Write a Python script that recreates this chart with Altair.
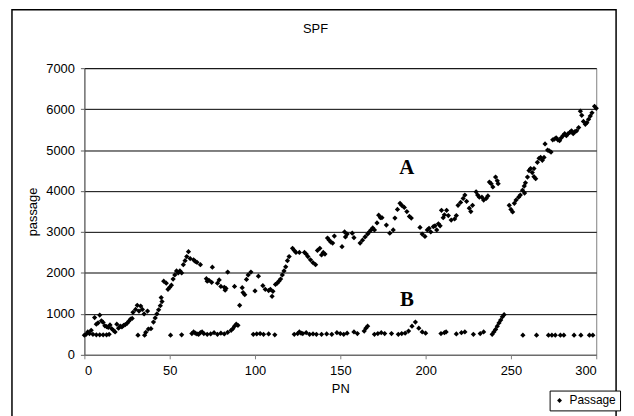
import altair as alt
import pandas as pd

# Upper trend (group "A")
a_pn = [6, 7, 8, 9, 10, 11, 12, 13, 14, 15, 16, 17, 18, 19, 20, 21, 22, 23, 24, 25, 26, 27, 28, 28.5, 30, 31, 32, 33, 34, 35, 37,
        36, 37.5, 39, 40.5, 41.5, 42.5, 43.5, 44.5, 45, 45.5, 46.5, 48, 49, 50, 51, 52, 53, 54, 55, 56, 57, 58, 59, 60, 61,
        62, 64, 65, 66, 68, 71.5, 72, 73, 74.6, 75, 78, 79, 80, 82, 82.5, 83, 84, 88, 91, 92.5, 93, 94, 95, 96, 97.6, 100, 102,
        104.6, 106, 108, 109, 110, 110.5, 112, 113, 114, 115, 116, 117, 118, 119, 120, 122, 123, 124, 126, 129, 130, 131, 132.5,
        134, 135.5, 136.6, 138, 139, 140, 141, 142.5, 143.5, 144.5, 145.5, 146.5, 151, 152.5, 153, 154, 157, 158, 161.6, 163,
        164.5, 166, 167, 168, 169, 170, 171.5, 172.5, 173.5, 174.4, 177, 179, 181, 182, 183.5, 185, 186, 187.5, 189, 190.5,
        191.6, 196.7, 198, 199.6, 201, 202, 203, 204.5, 205.5, 206.5, 207.5, 208.5, 209.3, 210.3, 211, 212.3, 213.3, 215, 217,
        218, 219, 220.5, 222, 223, 224, 225.6, 226.5, 227.5, 229.6, 230.5, 231.5, 233, 234, 235.5, 236.5, 237.4, 238.4, 239.4,
        241, 242, 242.5, 249, 250, 251, 252, 253, 254.5, 255.5, 256.8, 257.8, 258.5, 258, 259.7, 260.6, 261.5, 262.5, 263.5,
        264.5, 263.5, 265.5, 266.5, 267.4, 268.4, 269.4, 270, 271.5, 272.5, 273.5, 274.5, 275.5, 276.5, 277.5, 278.5, 279.5,
        280.5, 281.5, 282.5, 283.5, 284.5, 285.5, 286.5, 287.5, 288.5, 289.7, 290.7, 291.5, 292.5, 293.6, 294.5, 295.5, 296.5,
        297.5, 299, 300]
a_val = [910, 750, 780, 970, 830, 790, 710, 690, 670, 730, 640, 600, 560, 750, 650, 700, 680, 720, 740, 770, 820, 870, 890, 1040, 1110, 1210, 1070, 1190, 1110, 1000, 1070,
         550, 630, 640, 800, 900, 1000, 1100, 1200, 1400, 1300, 1800, 1750, 1600, 1650, 1700, 1850, 1950, 2050, 2000, 2050, 2000, 2200, 2300, 2400, 2520,
         2350, 2320, 2280, 2260, 2200, 1860, 1800, 1820, 1770, 2140, 1750, 1830, 1670, 1650, 1580, 1620, 2020, 1670, 1210, 1640, 1520, 1470, 1840, 1950, 2020, 1560, 1920,
         1690, 1600, 1570, 1600, 1430, 1550, 1720, 1750, 1800, 1850, 1950, 2050, 2150, 2300, 2400, 2600, 2550, 2500, 2500, 2500, 2460, 2400, 2320,
         2250, 2200, 2550, 2600, 2440, 2500, 2460, 2850, 2800, 2750, 2730, 2900, 2640, 3000, 2880, 2950, 2970, 2860, 2730, 2800,
         2880, 2950, 3000, 3050, 3100, 3050, 3220, 3410, 3350, 3350, 3170, 2970, 3050, 3340, 3550, 3700, 3650, 3600, 3500, 3380,
         3340, 3110, 2950, 2890, 3050, 3090, 3000, 3130, 3150, 3050, 3200, 3150, 3530, 3350, 3420, 3530, 3400, 3290, 3320,
         3400, 3650, 3720, 3820, 3900, 3750, 3580, 3500, 3650, 3980, 3900, 3850, 3850, 3780, 3820, 3880, 4220, 4180, 4100,
         4340, 4250, 4180, 3650, 3550, 3490, 3700, 3780, 3850, 3900, 4020, 4120, 4200, 3950, 4340, 4500, 4550, 4450, 4350,
         4300, 4550, 4700, 4800, 4820, 4750, 4820, 5150, 5000, 4980, 4950, 5250, 5270, 5300, 5250, 5230, 5300,
         5350, 5400, 5350, 5400, 5430, 5470, 5400, 5450, 5470, 5550, 5950, 5850, 5700, 5630, 5670, 5750, 5830,
         5910, 6070, 6020]

# Lower band (group "B")
b_pn = [0, 1, 2, 3, 4, 5, 7, 9, 11, 13, 14.5, 31.4, 35.3, 50.5, 57, 63, 64, 65, 66, 67, 68, 69, 70, 72, 74, 76, 78, 80, 82, 84,
        86, 87, 88, 89, 90, 99, 101, 103, 105, 108, 111.6, 123, 125, 126, 127, 128, 130, 132, 134, 136, 139, 142, 145, 148,
        150, 152, 154, 158, 160, 164, 165, 166, 170, 172, 174, 176, 180, 184, 186, 188, 190, 192, 194, 196, 198, 200, 209,
        211, 212, 218, 221, 223, 228, 232, 234, 239, 240, 241, 242, 243, 244, 245, 246, 257, 265, 272, 274, 276, 279, 281,
        287, 291, 296, 298]
b_val = [480, 500, 560, 520, 600, 500, 490, 490, 490, 490, 500, 480, 480, 480, 490, 520, 560, 530, 510, 500, 540, 560, 520, 500, 510, 540, 500, 530, 510, 550,
         600, 640, 700, 750, 720, 500, 510, 520, 500, 510, 490, 500, 520, 560, 530, 520, 540, 500, 510, 500, 500, 510, 500, 540,
         520, 500, 530, 560, 520, 580, 650, 700, 500, 520, 540, 520, 520, 500, 520, 530, 580, 700, 800, 650, 560, 530, 520,
         540, 560, 510, 540, 560, 500, 520, 560, 500, 560, 620, 700, 780, 850, 930, 980, 480, 480, 480, 480, 480, 480, 480,
         480, 480, 480, 480]

lbl_pn = [189, 189]
lbl_val = [4550, 1350]
lbl_text = ["A", "B"]

chart_title = "SPF"

df = pd.DataFrame({
    "PN": a_pn + b_pn,
    "passage": a_val + b_val,
    "series": ["Passage"] * (len(a_pn) + len(b_pn)),
})
lbl = pd.DataFrame({"PN": lbl_pn, "passage": lbl_val, "t": lbl_text})

FONT = "Liberation Sans"

xs = alt.Scale(domain=[0, 300], nice=False)
ys = alt.Scale(domain=[0, 7000], nice=False)

points = alt.Chart(df).mark_point(shape="diamond", filled=True, size=28, opacity=1).encode(
    x=alt.X("PN:Q", scale=xs, title="PN",
            axis=alt.Axis(values=[0, 50, 100, 150, 200, 250, 300], grid=False, tickSize=4, format="d",
                          labelPadding=6, titlePadding=5, domainColor="#808080", tickColor="#808080")),
    y=alt.Y("passage:Q", scale=ys, title="passage",
            axis=alt.Axis(values=[0, 1000, 2000, 3000, 4000, 5000, 6000, 7000], grid=True, gridColor="black",
                          gridWidth=1, tickSize=4, labelPadding=6, titlePadding=6, format="d",
                          domainColor="#606060", tickColor="#606060")),
    color=alt.Color("series:N", scale=alt.Scale(range=["black"]),
                    legend=alt.Legend(title=None, orient="none", legendX=469, legendY=325,
                                      strokeColor="black", padding=4, symbolType="diamond",
                                      symbolSize=24, labelFontSize=12, labelFont=FONT,
                                      fillColor="white")),
)

labels = alt.Chart(lbl).mark_text(font="Liberation Serif", fontWeight="bold", fontSize=21,
                                  baseline="middle", color="black").encode(
    x=alt.X("PN:Q", scale=xs), y=alt.Y("passage:Q", scale=ys), text="t:N")

frame = alt.Chart(pd.DataFrame({"k": [0]})).mark_rect(fillOpacity=0, stroke="black", strokeWidth=1.5,
                                                         clip=False).encode(
    x=alt.value(-73), x2=alt.value(536), y=alt.value(-59), y2=alt.value(360))

title_mark = alt.Chart(pd.DataFrame({"t": [chart_title]})).mark_text(
    font=FONT, fontSize=13, color="black", baseline="middle", align="center").encode(
    x=alt.value(233), y=alt.value(-39), text="t:N")

chart = alt.layer(frame, points, labels, title_mark).properties(
    width=516, height=289,
    autosize=alt.AutoSizeParams(type="none"),
    padding={"left": 77, "top": 59, "right": 30, "bottom": 60},
).configure_axis(
    labelFont=FONT, titleFont=FONT, labelFontSize=13, titleFontSize=13,
    labelColor="black", titleColor="black", titleFontWeight="normal",
).configure_view(stroke="#808080", strokeWidth=1)

chart.save("out.html", embed_options={"renderer": "svg", "actions": False})
